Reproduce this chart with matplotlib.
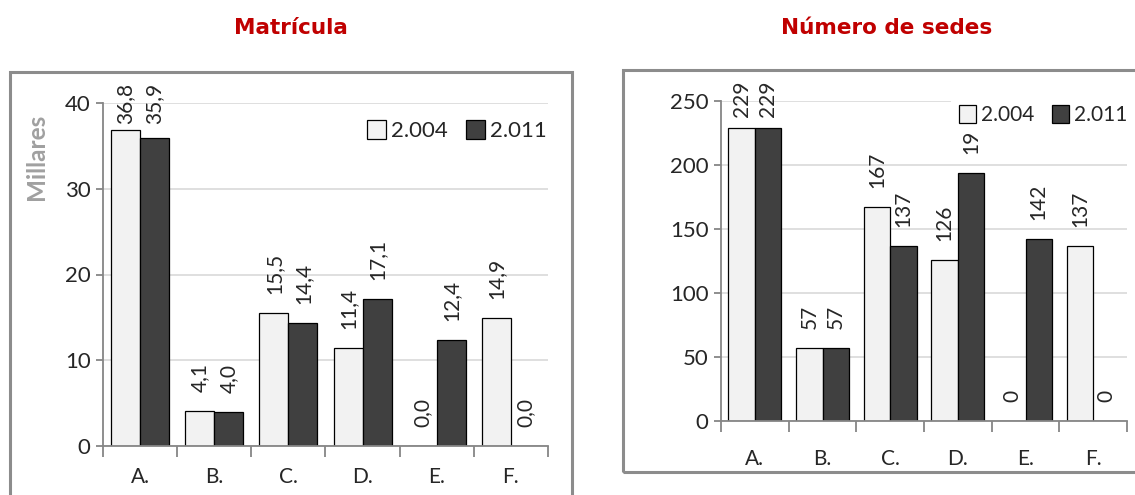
import matplotlib
matplotlib.use("Agg")
import matplotlib.pyplot as plt
from matplotlib.patches import Rectangle
from matplotlib.transforms import Bbox
import numpy as np

categories = ["A.", "B.", "C.", "D.", "E.", "F."]
series_names = ["2.004", "2.011"]
matricula_2004 = [36.8, 4.1, 15.5, 11.4, 0.0, 14.9]
matricula_2011 = [35.9, 4.0, 14.4, 17.1, 12.4, 0.0]
sedes_2004 = [229, 57, 167, 126, 0, 137]
sedes_2011 = [229, 57, 137, 194, 142, 0]
titles = ["Matrícula", "Número de sedes"]

W, H = 1135, 495
plt.rcParams['font.family'] = ['Lato', 'DejaVu Sans']
fig = plt.figure(figsize=(W / 100, H / 100), dpi=100)

LIGHT = "#F2F2F2"
DARK = "#404040"
GRID = "#D9D9D9"
AXC = "#868686"
TITLE_C = "#C00000"
TXT = "#262626"


def px_axes(x0, y0, x1, y1):
    return fig.add_axes([x0 / W, 1 - y1 / H, (x1 - x0) / W, (y1 - y0) / H])


def box(x0, y0, x1, y1):
    fig.patches.append(Rectangle((x0 / W, 1 - y1 / H), (x1 - x0) / W, (y1 - y0) / H,
                                 transform=fig.transFigure, fill=False,
                                 edgecolor="#8C8C8C", linewidth=2.2, zorder=0))


def draw(ax, v1, v2, ymax, ystep, fmt, legend_anchor, xpad, legsize):
    x = np.arange(len(categories))
    bw = 0.39
    b1 = ax.bar(x - bw / 2, v1, bw, color=LIGHT, edgecolor="black", linewidth=0.9,
                label=series_names[0], zorder=2)
    b2 = ax.bar(x + bw / 2, v2, bw, color=DARK, edgecolor="black", linewidth=0.9,
                label=series_names[1], zorder=2)
    ax.set_xlim(-0.5, len(categories) - 0.5)
    ax.set_ylim(0, ymax)
    ax.set_yticks(np.arange(0, ymax + ystep / 2, ystep))
    ax.yaxis.grid(True, color=GRID, linewidth=1.2, zorder=0)
    ax.set_axisbelow(True)
    for s in ["top", "right"]:
        ax.spines[s].set_visible(False)
    for s in ["left", "bottom"]:
        ax.spines[s].set_color(AXC)
        ax.spines[s].set_linewidth(1.3)
    ax.set_xticks(x)
    ax.set_xticklabels(categories, fontsize=15, color=TXT)
    ax.set_xticks(np.arange(-0.5, len(categories)), minor=True)
    ax.tick_params(axis="x", which="major", length=0, pad=xpad)
    ax.tick_params(axis="x", which="minor", length=8, color=AXC, width=1.3, direction="out")
    ax.tick_params(axis="y", length=5, color=AXC, width=1.3, labelsize=16,
                   labelcolor=TXT, pad=4)
    anns = []
    for bars, vals in ((b1, v1), (b2, v2)):
        for rect, v in zip(bars, vals):
            a = ax.annotate(fmt(v), (rect.get_x() + rect.get_width() / 2, rect.get_height()),
                            xytext=(0, 19), textcoords="offset pixels", rotation=90,
                            ha="center", va="bottom", fontsize=15, color=TXT,
                            annotation_clip=False, zorder=3)
            anns.append(a)
    leg = ax.legend(loc="center right", bbox_to_anchor=legend_anchor, ncol=2,
                    frameon=True, fontsize=legsize, handlelength=0.85, handleheight=0.95,
                    handletextpad=0.25, columnspacing=0.8, borderpad=0.35,
                    borderaxespad=0)
    leg.get_frame().set_facecolor("white")
    leg.get_frame().set_edgecolor("none")
    leg.get_frame().set_alpha(1)
    leg.set_zorder(10)
    for t in leg.get_texts():
        t.set_color(TXT)
    return anns, leg


# Left panel
LBOX = (10, 72, 572, 510)
box(*LBOX)
ax1 = px_axes(103, 103, 548, 446)
anns1, leg1 = draw(ax1, matricula_2004, matricula_2011, 40, 10,
                   lambda v: f"{v:.1f}".replace(".", ","), (1.015, 0.92), 15, 16)
fig.text(37 / W, 1 - 157 / H, "Millares", rotation=90, ha="center", va="center",
         fontsize=17.5, fontweight="bold", color="#A0A0A0")

# Right panel
RBOX = (623, 70, 1150, 472)
box(*RBOX)
ax2 = px_axes(721, 101, 1127, 421)
anns2, leg2 = draw(ax2, sedes_2004, sedes_2011, 250, 50, lambda v: f"{v:d}",
                   (1.02, 0.955), 20, 15)

fig.text(291 / W, 1 - 28 / H, titles[0], ha="center", va="center", fontsize=15.5,
         fontweight="bold", color=TITLE_C, family="DejaVu Sans")
fig.text(887 / W, 1 - 28 / H, titles[1], ha="center", va="center", fontsize=15.5,
         fontweight="bold", color=TITLE_C, family="DejaVu Sans")

# Keep data labels inside the chart frame and behind the legend, as in the source
fig.canvas.draw()
renderer = fig.canvas.get_renderer()
for anns, leg, bx in ((anns1, leg1, LBOX), (anns2, leg2, RBOX)):
    limit = H - bx[1] - 11
    lb = leg.get_window_extent(renderer)
    for a in anns:
        bb = a.get_window_extent(renderer)
        if bb.y1 > limit:
            a.xyann = (0, 19 - (bb.y1 - limit))
            bb = a.get_window_extent(renderer)
        if bb.x1 > lb.x0 and bb.x0 < lb.x1 and bb.y1 > lb.y0:
            a.set_clip_box(Bbox([[bb.x0 - 5, 0], [bb.x1 + 5, lb.y0]]))
            a.set_clip_on(True)

fig.savefig("out.png", dpi=100, facecolor="white")
